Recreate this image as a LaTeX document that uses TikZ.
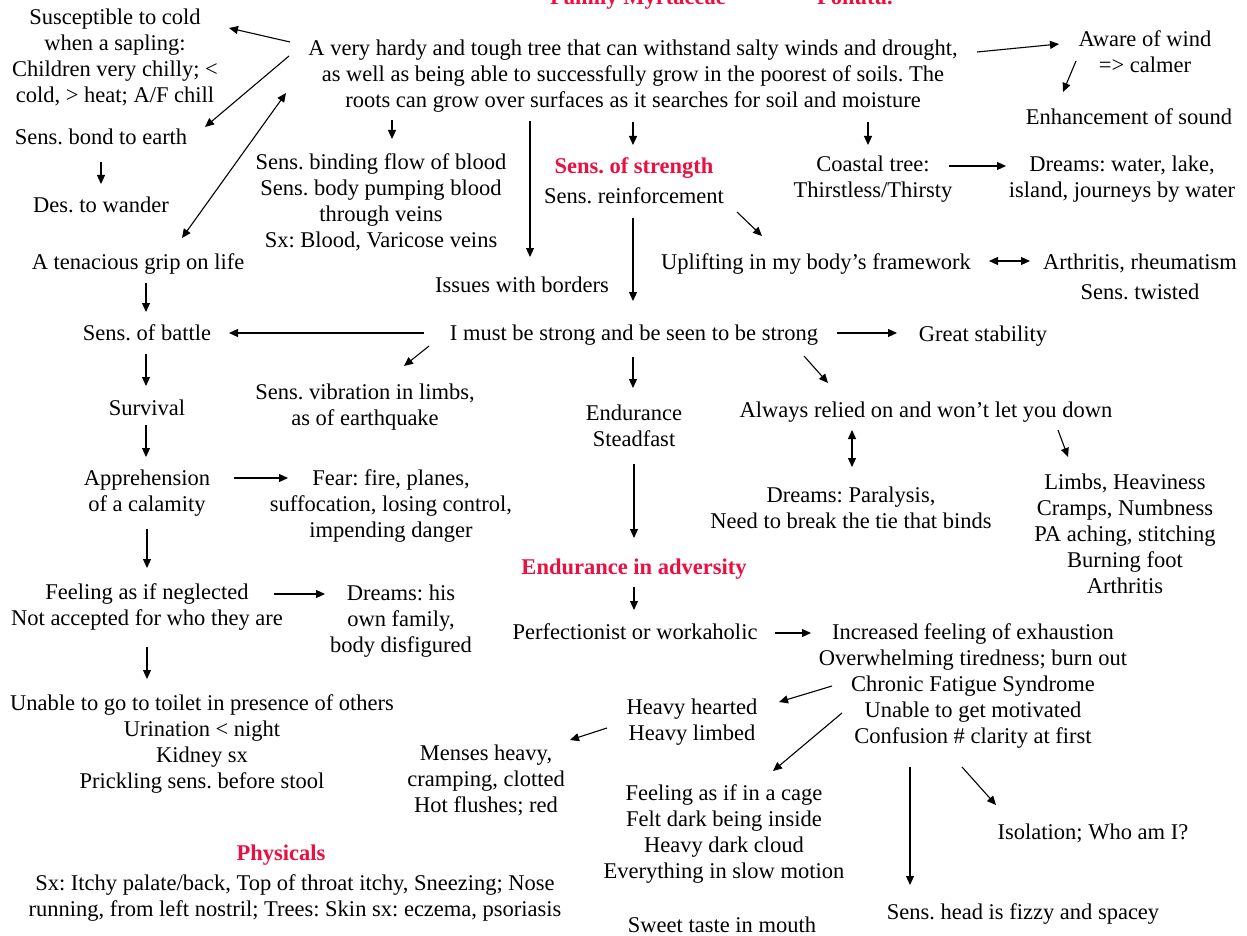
\documentclass[tikz,border=0pt]{standalone}
\usepackage{fontspec}
\setmainfont{Liberation Serif}
\usetikzlibrary{arrows.meta}
\definecolor{hdred}{RGB}{235,16,64}
\newcommand{\ml}[1]{\begin{tabular}[t]{@{}c@{}}#1\end{tabular}}
\frenchspacing
\begin{document}
\begin{tikzpicture}[x=1pt,y=-1pt,
  every node/.style={inner sep=0pt, outer sep=0pt, anchor=base, font=\fontsize{22.5}{26}\selectfont},
  hd/.style={text=hdred, font=\fontsize{22.5}{26}\selectfont\bfseries},
  arr/.style={-{Triangle[length=9pt,width=8pt]}, line width=1.1pt},
  darr/.style={{Triangle[length=9pt,width=8pt]}-{Triangle[length=9pt,width=8pt]}, line width=1.1pt}]
\useasboundingbox (0,0) rectangle (1247,936);
\clip (0,0) rectangle (1247,936);
\fill[white] (0,0) rectangle (1247,936);

\node (t1) [hd] at (638,5) {Family Myrtaceae};
\node (t2) [hd] at (855,5) {Pohutu.};
\node (main) at (633,56) {\ml{A very hardy and tough tree that can withstand salty winds and drought,\\ as well as being able to successfully grow in the poorest of soils. The\\ roots can grow over surfaces as it searches for soil and moisture}};
\node (susc) at (115,25) {\ml{Susceptible to cold\\ when a sapling:\\ Children very chilly; <\\ cold, > heat; A/F chill}};
\node (bond) at (101,145) {Sens. bond to earth};
\node (wander) at (101,212) {Des. to wander};
\node (grip) at (138,269) {A tenacious grip on life};
\node (sbind) at (381,170) {\ml{Sens. binding flow of blood\\ Sens. body pumping blood\\ through veins\\ Sx: Blood, Varicose veins}};
\node (strength) [hd] at (634,174) {Sens. of strength};
\node (reinf) at (634,204) {Sens. reinforcement};
\node (borders) at (522,292) {Issues with borders};
\node (coastal) at (873,172) {\ml{Coastal tree:\\ Thirstless/Thirsty}};
\node (aware) at (1145,47) {\ml{Aware of wind\\ => calmer}};
\node (enh) at (1129,125) {Enhancement of sound};
\node (dreamsw) at (1122,172) {\ml{Dreams: water, lake,\\ island, journeys by water}};
\node (uplift) at (816,269) {Uplifting in my body’s framework};
\node (arth) at (1140,269) {\ml{Arthritis, rheumatism\\[4pt] Sens. twisted}};
\node (strong) at (634,340) {I must be strong and be seen to be strong};
\node (battle) at (147,340) {Sens. of battle};
\node (stab) at (983,341) {Great stability};
\node (vib) at (365,399) {\ml{Sens. vibration in limbs,\\ as of earthquake}};
\node (survival) at (147,415) {Survival};
\node (endur) at (634,420) {\ml{Endurance\\ Steadfast}};
\node (relied) at (926,417) {Always relied on and won’t let you down};
\node (dpar) at (851,502) {\ml{Dreams: Paralysis,\\ Need to break the tie that binds}};
\node (limbs) at (1125,489) {\ml{Limbs, Heaviness\\ Cramps, Numbness\\ PA aching, stitching\\ Burning foot\\ Arthritis}};
\node (appr) at (147,485) {\ml{Apprehension\\ of a calamity}};
\node (fear) at (391,485) {\ml{Fear: fire, planes,\\ suffocation, losing control,\\ impending danger}};
\node (adv) [hd] at (634,574) {Endurance in adversity};
\node (negl) at (147,599) {\ml{Feeling as if neglected\\ Not accepted for who they are}};
\node (dhis) at (401,600) {\ml{Dreams: his\\ own family,\\ body disfigured}};
\node (perf) at (635,639) {Perfectionist or workaholic};
\node (incr) at (973,639) {\ml{Increased feeling of exhaustion\\ Overwhelming tiredness; burn out\\ Chronic Fatigue Syndrome\\ Unable to get motivated\\ Confusion \# clarity at first}};
\node (heavy) at (692,714) {\ml{Heavy hearted\\ Heavy limbed}};
\node (menses) at (486,760) {\ml{Menses heavy,\\ cramping, clotted\\ Hot flushes; red}};
\node (toilet) at (202,710) {\ml{Unable to go to toilet in presence of others\\ Urination < night\\ Kidney sx\\ Prickling sens. before stool}};
\node (phys) [hd] at (281,860) {Physicals};
\node (sx) at (295,890) {\ml{Sx: Itchy palate/back, Top of throat itchy, Sneezing; Nose\\ running, from left nostril; Trees: Skin sx: eczema, psoriasis}};
\node (cage) at (724,800) {\ml{Feeling as if in a cage\\ Felt dark being inside\\ Heavy dark cloud\\ Everything in slow motion}};
\node (sweet) at (722,932) {Sweet taste in mouth};
\node (isol) at (1093,839) {Isolation; Who am I?};
\node (head) at (1023,919) {Sens. head is fizzy and spacey};

% connectors
\draw[arr] ([shift={(-343,-14)}]main.base) -- ([shift={(114,3)}]susc.base);
\draw[arr] ([shift={(-344,0)}]main.base) -- ([shift={(104,-18)}]bond.base);
\draw[darr] ([shift={(44,-31)}]grip.base) -- ([shift={(-347,37)}]main.base);
\draw[arr] ([shift={(0,17)}]bond.base) -- ([shift={(0,-28)}]wander.base);
\draw[arr] ([shift={(8,14)}]grip.base) -- ([shift={(-1,-28)}]battle.base);
\draw[arr] ([shift={(-241,64)}]main.base) -- ([shift={(11,-31)}]sbind.base);
\draw[arr] ([shift={(-103,65)}]main.base) -- ([shift={(8,-35)}]borders.base);
\draw[arr] ([shift={(0,66)}]main.base) -- ([shift={(-1,-29)}]strength.base);
\draw[arr] ([shift={(235,66)}]main.base) -- ([shift={(-5,-27)}]coastal.base);
\draw[arr] ([shift={(344,-4)}]main.base) -- ([shift={(-86,-3)}]aware.base);
\draw[arr] ([shift={(-69,14)}]aware.base) -- ([shift={(-66,-33)}]enh.base);
\draw[arr] ([shift={(76,-6)}]coastal.base) -- ([shift={(-116,-6)}]dreamsw.base);
\draw[arr] ([shift={(103,8)}]reinf.base) -- ([shift={(-54,-33)}]uplift.base);
\draw[darr] ([shift={(173,-8)}]uplift.base) -- ([shift={(-110,-8)}]arth.base);
\draw[arr] ([shift={(-1,14)}]reinf.base) -- ([shift={(-1,-39)}]strong.base);
\draw[arr] ([shift={(-210,-7)}]strong.base) -- ([shift={(82,-7)}]battle.base);
\draw[arr] ([shift={(203,-7)}]strong.base) -- ([shift={(-86,-8)}]stab.base);
\draw[arr] ([shift={(-205,6)}]strong.base) -- ([shift={(39,-33)}]vib.base);
\draw[arr] ([shift={(-1,17)}]strong.base) -- ([shift={(-1,-32)}]endur.base);
\draw[arr] ([shift={(170,16)}]strong.base) -- ([shift={(-98,-34)}]relied.base);
\draw[arr] ([shift={(-1,14)}]battle.base) -- ([shift={(-1,-29)}]survival.base);
\draw[arr] ([shift={(-1,10)}]survival.base) -- ([shift={(-1,-28)}]appr.base);
\draw[arr] ([shift={(87,-7)}]appr.base) -- ([shift={(-103,-7)}]fear.base);
\draw[arr] ([shift={(0,44)}]appr.base) -- ([shift={(0,-31)}]negl.base);
\draw[arr] ([shift={(127,-5)}]negl.base) -- ([shift={(-76,-6)}]dhis.base);
\draw[arr] ([shift={(0,48)}]negl.base) -- ([shift={(-55,-31)}]toilet.base);
\draw[darr] ([shift={(-74,13)}]relied.base) -- ([shift={(1,-35)}]dpar.base);
\draw[arr] ([shift={(132,13)}]relied.base) -- ([shift={(-57,-32)}]limbs.base);
\draw[arr] ([shift={(0,44)}]endur.base) -- ([shift={(0,-36)}]adv.base);
\draw[arr] ([shift={(0,13)}]adv.base) -- ([shift={(-1,-29)}]perf.base);
\draw[arr] ([shift={(140,-6)}]perf.base) -- ([shift={(-162,-6)}]incr.base);
\draw[arr] ([shift={(-141,47)}]incr.base) -- ([shift={(87,-12)}]heavy.base);
\draw[arr] ([shift={(-131,74)}]incr.base) -- ([shift={(49,-29)}]cage.base);
\draw[arr] ([shift={(-85,14)}]heavy.base) -- ([shift={(84,-20)}]menses.base);
\draw[arr] ([shift={(-63,128)}]incr.base) -- ([shift={(-113,-34)}]head.base);
\draw[arr] ([shift={(-11,128)}]incr.base) -- ([shift={(-97,-34)}]isol.base);
\end{tikzpicture}
\end{document}
